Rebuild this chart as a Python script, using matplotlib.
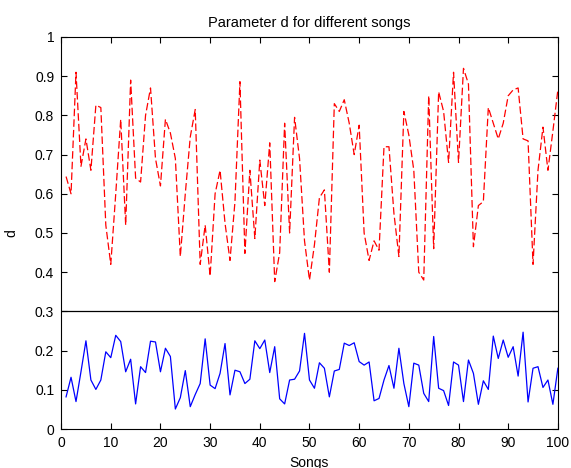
import numpy as np
import matplotlib
matplotlib.use('Agg')
import matplotlib.pyplot as plt

# ------------------------------------------------------------
# data (songs 1..100)
# ------------------------------------------------------------
songs = np.arange(1, 101)

d_red = [
    0.644, 0.60, 0.91, 0.67, 0.74, 0.66, 0.826, 0.82, 0.52, 0.42,
    0.60, 0.79, 0.52, 0.89, 0.64, 0.63, 0.80, 0.87, 0.69, 0.62,
    0.79, 0.755, 0.69, 0.44, 0.60, 0.745, 0.815, 0.42, 0.52, 0.39,
    0.60, 0.66, 0.525, 0.43, 0.58, 0.886, 0.448, 0.66, 0.486, 0.686,
    0.57, 0.73, 0.376, 0.45, 0.78, 0.50, 0.795, 0.69, 0.48, 0.38,
    0.47, 0.59, 0.61, 0.40, 0.83, 0.81, 0.84, 0.78, 0.70, 0.775,
    0.50, 0.43, 0.48, 0.456, 0.72, 0.72, 0.55, 0.44, 0.81, 0.75,
    0.66, 0.40, 0.38, 0.85, 0.46, 0.86, 0.81, 0.68, 0.91, 0.68,
    0.92, 0.88, 0.465, 0.57, 0.58, 0.82, 0.78, 0.74, 0.78, 0.85,
    0.865, 0.87, 0.74, 0.735, 0.42, 0.66, 0.77, 0.66, 0.76, 0.865,
]

d_blue = [
    0.082, 0.132, 0.070, 0.146, 0.225, 0.125, 0.101, 0.125, 0.197, 0.182,
    0.239, 0.223, 0.146, 0.178, 0.064, 0.159, 0.144, 0.224, 0.222, 0.146,
    0.206, 0.185, 0.051, 0.080, 0.149, 0.057, 0.088, 0.116, 0.230, 0.112,
    0.103, 0.142, 0.218, 0.087, 0.150, 0.146, 0.116, 0.127, 0.225, 0.205,
    0.227, 0.144, 0.210, 0.077, 0.064, 0.125, 0.127, 0.148, 0.244, 0.125,
    0.104, 0.169, 0.155, 0.082, 0.148, 0.152, 0.219, 0.213, 0.220, 0.172,
    0.163, 0.171, 0.072, 0.078, 0.125, 0.162, 0.104, 0.206, 0.116, 0.057,
    0.168, 0.163, 0.091, 0.070, 0.236, 0.104, 0.098, 0.060, 0.171, 0.163,
    0.070, 0.176, 0.142, 0.063, 0.123, 0.101, 0.237, 0.180, 0.227, 0.183,
    0.210, 0.135, 0.247, 0.069, 0.155, 0.159, 0.106, 0.125, 0.063, 0.155,
]

split_level = 0.3
x_ticks = np.arange(0, 101, 10)
y_ticks = np.round(np.arange(0, 1.01, 0.1), 1)
y_tick_labels = ['0', '0.1', '0.2', '0.3', '0.4', '0.5', '0.6', '0.7', '0.8', '0.9', '1']

# ------------------------------------------------------------
# plot (MATLAB-like look)
# ------------------------------------------------------------
plt.rcParams['font.family'] = ['Liberation Sans', 'DejaVu Sans']
plt.rcParams['font.size'] = 10

fig = plt.figure(figsize=(5.71, 4.68), dpi=100)
ax = fig.add_axes([0.107, 0.0833, 0.870, 0.8377])

ax.plot(songs, d_red, color='red', linestyle=(0, (6, 2.5)), linewidth=0.9)
ax.plot(songs, d_blue, color='blue', linestyle='-', linewidth=0.9)
ax.plot([0, 100], [split_level, split_level], color='black', linewidth=0.9)

ax.set_xlim(0, 100)
ax.set_ylim(0, 1)
ax.set_xticks(x_ticks)
ax.set_yticks(y_ticks)
ax.set_yticklabels(y_tick_labels)
ax.tick_params(direction='in', top=True, right=True, length=4, width=0.8, pad=5)
for s in ax.spines.values():
    s.set_linewidth(0.8)

ax.set_title('Parameter d for different songs', fontsize=10.5, pad=7)
ax.set_xlabel('Songs', labelpad=4)
ax.set_ylabel('d', labelpad=12)

fig.savefig('out.png', dpi=100)
